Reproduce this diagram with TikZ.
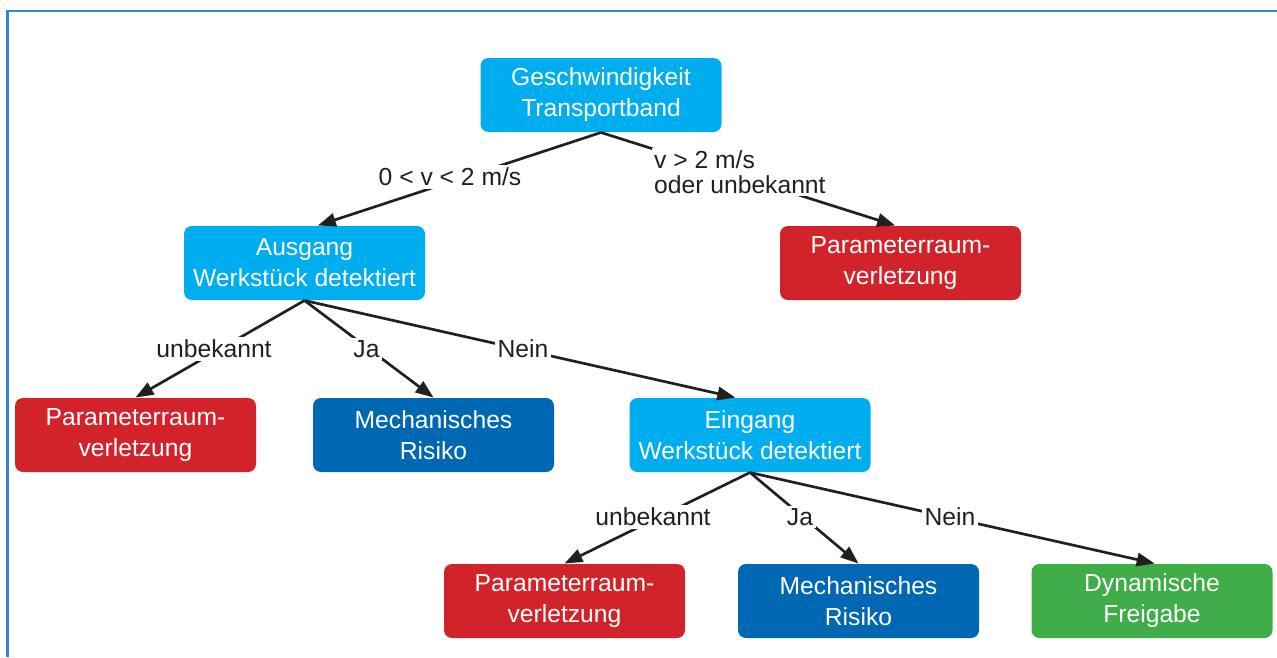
\documentclass[tikz,border=0pt]{standalone}
\usepackage{fontspec}
\setmainfont{Liberation Sans}
\usetikzlibrary{arrows.meta}

\definecolor{hellblau}{RGB}{0,174,239}
\definecolor{rot}{RGB}{210,35,43}
\definecolor{dunkelblau}{RGB}{0,104,178}
\definecolor{gruen}{RGB}{64,173,73}
\definecolor{rahmen}{RGB}{52,134,208}
\definecolor{schwarz}{RGB}{35,31,32}

\tikzset{every picture/.style={line width=0.75pt}}
\tikzset{
  kasten/.style={rounded corners=6pt, minimum width=180.75pt, minimum height=55.5pt,
    inner sep=0pt, align=center, text=white, font=\fontsize{18.5}{23.25}\selectfont},
  marke/.style={fill=white, inner sep=2pt, text=schwarz, align=left,
    font=\fontsize{18.5}{19}\selectfont},
  pfeil/.style={draw=schwarz, line width=2pt, -{Triangle[length=13.5pt,width=10pt]}},
}

\begin{document}
\begin{tikzpicture}[x=0.75pt,y=0.75pt,yscale=-1,xscale=1]
\useasboundingbox (0,0) rectangle (1277,657);

%Frame
\draw [rahmen, line width=1.6pt] (7.5,657) -- (7.5,11) -- (1277,11) ;

%Boxes
\node [kasten, fill=hellblau] (geschw) at (601,95) {Geschwindigkeit\\Transportband};
\node [kasten, fill=hellblau] (ausgang) at (304.5,263) {Ausgang\\Werkstück detektiert};
\node [kasten, fill=rot] (prOben) at (900.5,263) {Parameterraum-\\verletzung};
\node [kasten, fill=rot] (prLinks) at (135.5,435) {Parameterraum-\\verletzung};
\node [kasten, fill=dunkelblau] (mrLinks) at (433.5,435) {Mechanisches\\Risiko};
\node [kasten, fill=hellblau] (eingang) at (750,435) {Eingang\\Werkstück detektiert};
\node [kasten, fill=rot] (prUnten) at (564.5,601) {Parameterraum-\\verletzung};
\node [kasten, fill=dunkelblau] (mrUnten) at (858.5,601) {Mechanisches\\Risiko};
\node [kasten, fill=gruen] (freigabe) at (1152,601) {Dynamische\\Freigabe};

%Arrows
\draw [pfeil] (geschw.south) -- ([xshift=10pt]ausgang.north) ;
\draw [pfeil] (geschw.south) -- ([xshift=-4pt]prOben.north) ;
\draw [pfeil] (ausgang.south) -- (prLinks.north) ;
\draw [pfeil] (ausgang.south) -- (mrLinks.north) ;
\draw [pfeil] (ausgang.south) -- ([xshift=-11pt]eingang.north) ;
\draw [pfeil] (eingang.south) -- (prUnten.north) ;
\draw [pfeil] (eingang.south) -- (mrUnten.north) ;
\draw [pfeil] (eingang.south) -- ([xshift=2pt]freigabe.north) ;

% Text Node
\node [marke] (vKlein) at (450,177) {0 < v < 2 m/s};
% Text Node
\node [marke, anchor=north west] (vGross) at (651,147) {v > 2 m/s\\oder unbekannt};
% Text Node
\node [marke] (unbekannt1) at (214,349) {unbekannt};
% Text Node
\node [marke] (ja1) at (366.5,349) {Ja};
% Text Node
\node [marke] (nein1) at (523,349) {Nein};
% Text Node
\node [marke] (unbekannt2) at (653,517) {unbekannt};
% Text Node
\node [marke] (ja2) at (800,517) {Ja};
% Text Node
\node [marke] (nein2) at (950,517) {Nein};

\end{tikzpicture}
\end{document}
